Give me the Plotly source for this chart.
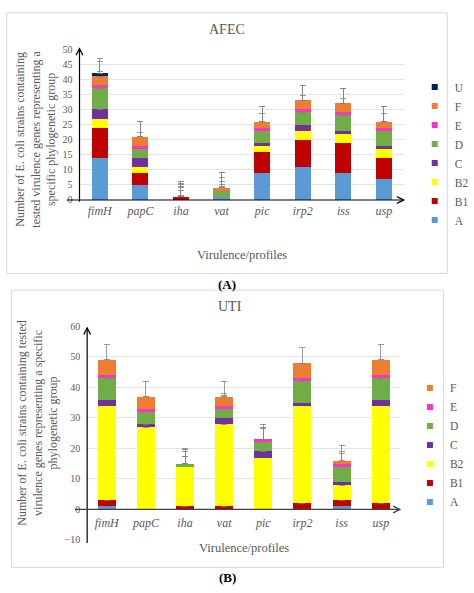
import plotly.graph_objects as go

categories = ["fimH", "papC", "iha", "vat", "pic", "irp2", "iss", "usp"]

# Panel A (AFEC)
afec_groups = ["A", "B1", "B2", "C", "D", "E", "F", "U"]
afec_A = [14, 5, 0, 1, 9, 11, 9, 7]
afec_B1 = [10, 4, 1, 0, 7, 9, 10, 7]
afec_B2 = [3, 2, 0, 0, 2, 3, 3, 3]
afec_C = [3, 3, 0, 0, 1, 2, 1, 1]
afec_D = [7, 3, 0, 2, 4, 4, 5, 5]
afec_E = [1, 1, 0, 0, 1, 1, 1, 1]
afec_F = [3, 3, 0, 1, 2, 3, 3, 2]
afec_U = [1, 0, 0, 0, 0, 0, 0, 0]
afec_err = [1.5, 2, 3.5, 4, 3, 4.5, 5, 5]

# Panel B (UTI)
uti_groups = ["A", "B1", "B2", "C", "D", "E", "F"]
uti_A = [1, 0, 0, 0, 0, 0, 1, 0]
uti_B1 = [2, 0, 1, 1, 0, 2, 2, 2]
uti_B2 = [31, 27, 13, 27, 17, 32, 5, 32]
uti_C = [2, 1, 0, 2, 2, 1, 1, 2]
uti_D = [7, 4, 1, 3, 3, 7, 5, 7]
uti_E = [1, 1, 0, 1, 1, 1, 1, 1]
uti_F = [5, 4, 0, 3, 0, 5, 1, 5]
uti_err = [0.5, 0.5, 3.5, 3.5, 4.5, 4, 5]

colors = {"A": "#5B9BD5", "B1": "#C00000", "B2": "#FFFF00", "C": "#7030A0",
          "D": "#70AD47", "E": "#FF33CC", "F": "#ED7D31", "U": "#002060"}

W, H = 474, 593
def px(x):
    return x / W
def py(y):
    return 1 - y / H

FONT = "Liberation Serif"
GRAY = "#595959"

fig = go.Figure()

afec_vals = [afec_A, afec_B1, afec_B2, afec_C, afec_D, afec_E, afec_F, afec_U]
for g, vals, e in zip(afec_groups, afec_vals, afec_err):
    fig.add_trace(go.Bar(
        x=categories, y=vals, name=g, xaxis="x", yaxis="y",
        marker=dict(color=colors[g], line=dict(width=0)), width=0.4,
        showlegend=False,
        error_y=dict(type="data", symmetric=False, array=[e] * len(vals),
                     arrayminus=[0] * len(vals), color="#808080", thickness=0.8, width=3),
    ))
    fig.add_trace(go.Scatter(
        x=[None], y=[None], name=g, mode="markers", xaxis="x", yaxis="y",
        marker=dict(symbol="square", size=6, color=colors[g]), legend="legend",
    ))

uti_vals = [uti_A, uti_B1, uti_B2, uti_C, uti_D, uti_E, uti_F]
for g, vals, e in zip(uti_groups, uti_vals, uti_err):
    fig.add_trace(go.Bar(
        x=categories, y=vals, name=g, xaxis="x2", yaxis="y2",
        marker=dict(color=colors[g], line=dict(width=0)), width=0.46,
        showlegend=False,
        error_y=dict(type="data", symmetric=False, array=[e] * len(vals),
                     arrayminus=[0] * len(vals), color="#808080", thickness=0.8, width=3),
    ))
    fig.add_trace(go.Scatter(
        x=[None], y=[None], name=g, mode="markers", xaxis="x2", yaxis="y2",
        marker=dict(symbol="square", size=6, color=colors[g]), legend="legend2",
    ))

# plot areas
a_x0, a_x1, a_y0, a_y1 = 83, 422, 44, 198     # AFEC: y=50 at 44, y=0 at 198
b_x0, b_x1, b_y0, b_y1 = 91, 418, 327, 545    # UTI: y=60 at 327, y=-10 at 545
b_zero = b_y1 - (b_y1 - b_y0) / 7.0

tickfont = dict(family=FONT, size=10, color=GRAY)
catfont = dict(family=FONT, size=12, color=GRAY, style="italic")

fig.update_layout(
    width=W, height=H, margin=dict(l=0, r=0, t=0, b=0),
    paper_bgcolor="white", plot_bgcolor="white",
    barmode="stack", bargap=0.6,
    font=dict(family=FONT, color=GRAY),
    xaxis=dict(domain=[px(a_x0), px(a_x1)], anchor="y", showgrid=False, showline=False,
               ticks="", tickfont=catfont, tickangle=0, ticklabelstandoff=2),
    yaxis=dict(domain=[py(a_y1), py(a_y0)], anchor="x", range=[0, 50], dtick=5,
               showgrid=True, gridcolor="#E3E3E3", gridwidth=1, zeroline=False,
               showline=False, ticks="", tickfont=tickfont, ticklabelstandoff=6),
    xaxis2=dict(domain=[px(b_x0), px(b_x1)], anchor="free", position=py(b_zero),
                showgrid=False, showline=False, ticks="", tickfont=catfont, tickangle=0,
                ticklabelstandoff=5),
    yaxis2=dict(domain=[py(b_y1), py(b_y0)], anchor="x2", range=[-10, 60], dtick=10,
                showgrid=True, gridcolor="#E3E3E3", gridwidth=1, zeroline=False,
                showline=False, ticks="", tickfont=tickfont, ticklabelstandoff=6),
    legend=dict(x=px(433), y=py(68), xanchor="left", yanchor="top",
                traceorder="reversed", font=dict(family=FONT, size=11.5, color=GRAY),
                itemwidth=30, bgcolor="rgba(0,0,0,0)"),
    legend2=dict(x=px(428), y=py(375), xanchor="left", yanchor="top",
                 traceorder="reversed", font=dict(family=FONT, size=11.5, color=GRAY),
                 itemwidth=30, bgcolor="rgba(0,0,0,0)"),
)

shapes = [
    dict(type="rect", xref="paper", yref="paper", x0=px(7), x1=px(467), y0=py(273), y1=py(7),
         line=dict(color="#D9D9D9", width=1)),
    dict(type="rect", xref="paper", yref="paper", x0=px(12), x1=px(463), y0=py(573), y1=py(290),
         line=dict(color="#D9D9D9", width=1)),
]
fig.update_layout(shapes=shapes)

def arrow(x_tip, y_tip, x_tail, y_tail, color):
    return dict(xref="paper", yref="paper", x=px(x_tip), y=py(y_tip), text="",
                showarrow=True, axref="pixel", ayref="pixel",
                ax=x_tail - x_tip, ay=y_tail - y_tip,
                arrowhead=5, arrowsize=1.1, arrowwidth=1.2, arrowcolor=color)

def label(x, y, text, size, color=GRAY, angle=0):
    return dict(xref="paper", yref="paper", x=px(x), y=py(y), text=text, showarrow=False,
                xanchor="center", yanchor="middle", textangle=angle,
                font=dict(family=FONT, size=size, color=color))

annotations = [
    arrow(a_x0, a_y0 - 2, a_x0, a_y1, "#000000"),
    arrow(a_x1 + 1, a_y1, a_x0, a_y1, "#000000"),
    arrow(b_x0, b_y0, b_x0, b_y1, "#000000"),
    arrow(b_x1 + 1, b_zero, b_x0, b_zero, "#404040"),
    label(237, 24, "AFEC", 14),
    label(240, 307, "UTI", 14),
    label(253, 254, "Virulence/profiles", 12.5),
    label(255, 553, "Virulence/profiles", 12.5),
    label(37, 136, "Number of E. coli strains containing<br>tested virulence genes representing a<br>specific phylogenetic group", 12, angle=-90),
    label(39, 425, "Number of E. coli strains containing tested<br>virulence genes representing a specific<br>phylogenetic group", 12, angle=-90),
    label(237, 284, "<b>(A)</b>", 13, color="#000000"),
    label(237, 583, "<b>(B)</b>", 13, color="#000000"),
]
fig.update_layout(annotations=annotations)

fig.write_html("out.html", config={"displayModeBar": False},
               post_script="document.body.style.margin='0';document.body.style.overflow='hidden';")
